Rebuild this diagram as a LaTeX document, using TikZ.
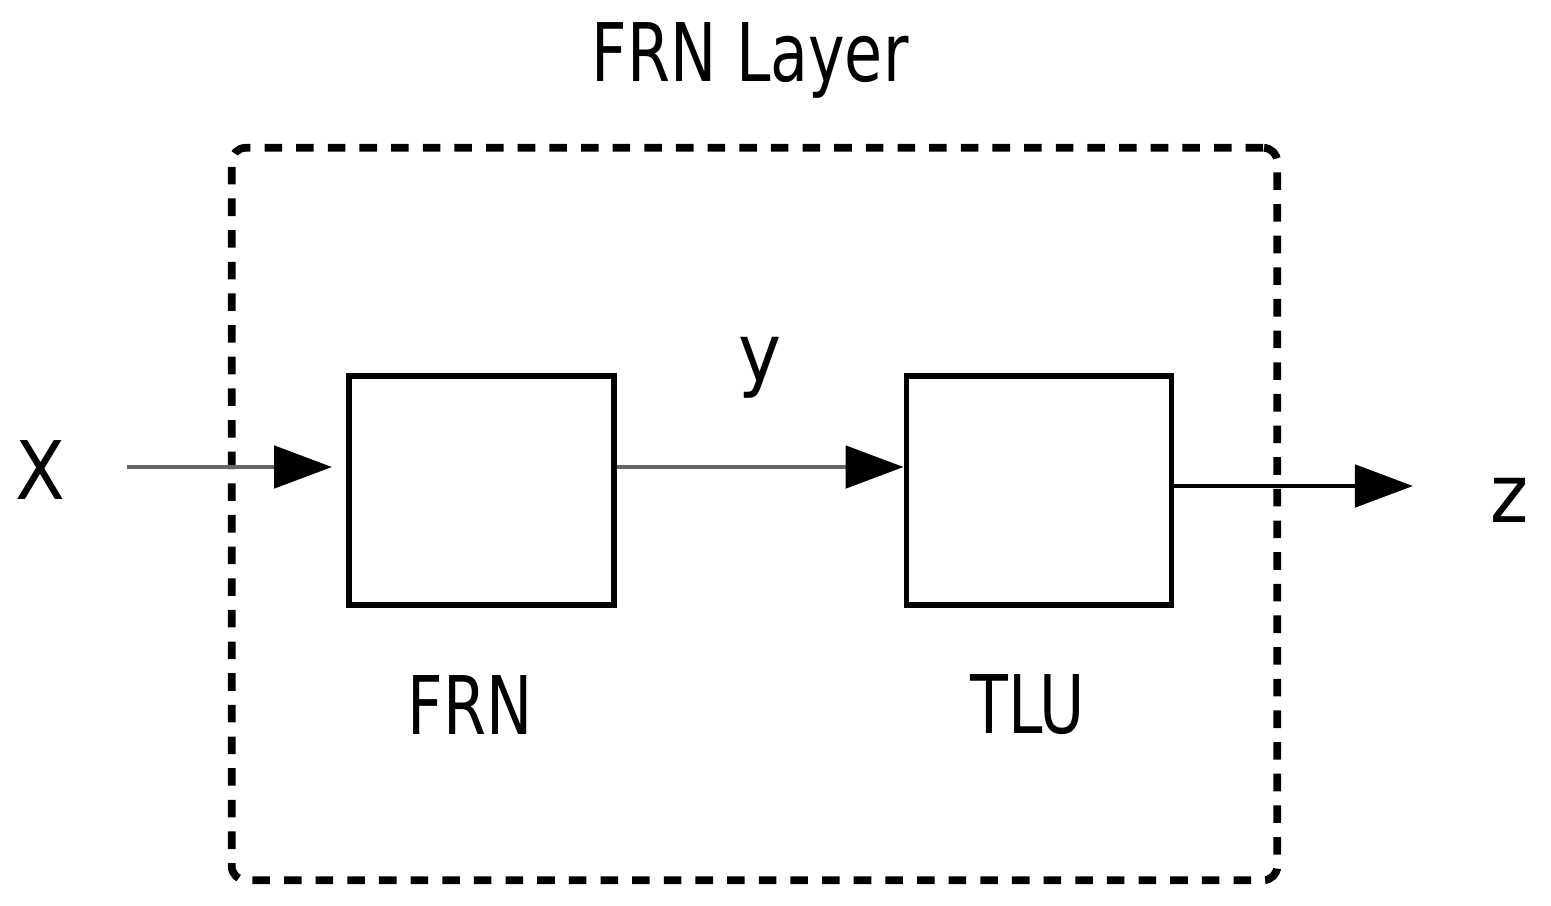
\documentclass[tikz,border=0pt]{standalone}
\usepackage{fontspec}
\setmainfont{DejaVu Sans Condensed}
\usetikzlibrary{arrows.meta}
\begin{document}
\begin{tikzpicture}[x=0.01cm,y=-0.01cm,
  blk/.style={draw,line width=1.6pt,minimum width=2.65cm,minimum height=2.29cm,inner sep=0},
  lab/.style={font=\fontsize{23}{23}\selectfont},
  arr/.style={-{Triangle[length=0.58cm,width=0.42cm,fill=black,color=black]}},
  gline/.style={draw=gray!80!black,line width=1.4pt}]
\useasboundingbox (0,0) rectangle (1551,906);
\node[draw,line width=2.2pt,dash pattern=on 5pt off 4pt,rounded corners=4pt,minimum width=10.45cm,minimum height=7.32cm,inner sep=0] (L) at (754.5,514) {};
\node[lab,xscale=0.85] (t) at (750,60) {FRN Layer};
\node[blk] (f) at (481.5,490.5) {};
\node[blk] (g) at (1039,490.5) {};
\node[lab,xscale=0.85] at (470,705) {FRN};
\node[lab,xscale=0.85] at (1028,705) {TLU};
\node[lab] (x) at (40,470) {X};
\node[lab] (y) at (760,368) {y};
\node[lab] (z) at (1510,500) {z};
\coordinate (xs) at (127,467);
\coordinate (ze) at (1413,486);
\draw[gline,arr,shorten >=4pt] (xs) -- (xs -| f.west);
\draw[gline,arr] (f.east |- 0,467) -- (g.west |- 0,467);
\draw[line width=1.4pt,arr] (g.east |- ze) -- (ze);
\end{tikzpicture}
\end{document}
